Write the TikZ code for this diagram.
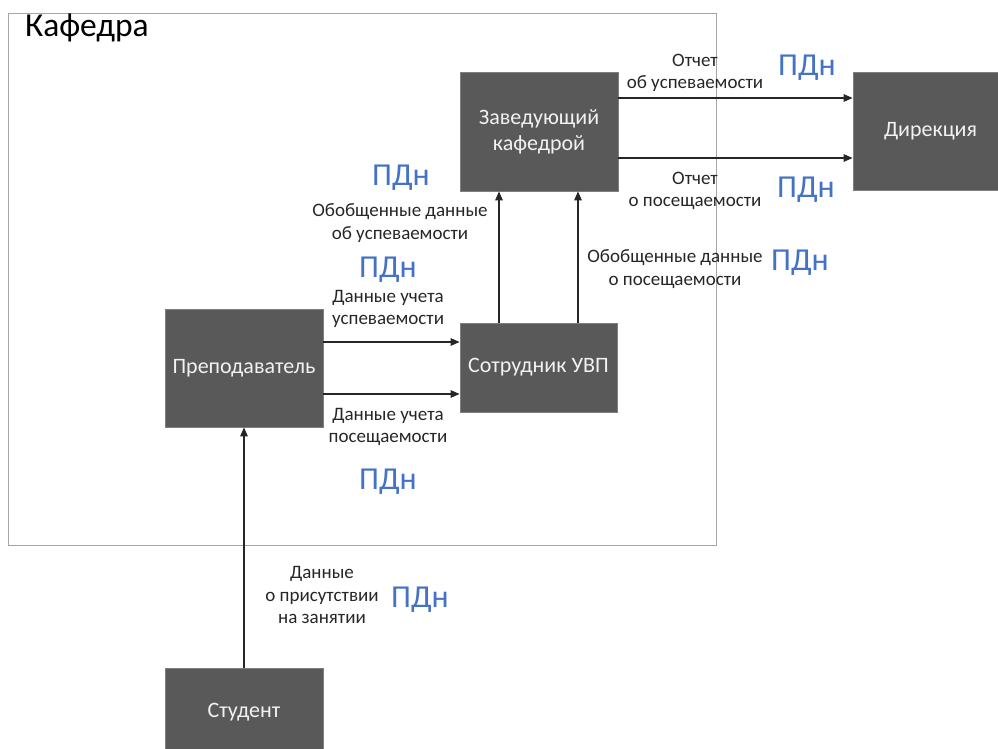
\documentclass[tikz,border=0pt]{standalone}
\usepackage{fontspec}
\setmainfont{Carlito}
\usetikzlibrary{arrows.meta}
\definecolor{boxfill}{HTML}{595959}
\definecolor{boxedge}{HTML}{7F7F7F}
\definecolor{boxtext}{HTML}{F2F2F2}
\definecolor{linecol}{HTML}{262626}
\definecolor{pdcol}{HTML}{4472C4}
\definecolor{framecol}{HTML}{A6A6A6}
\tikzset{
  actor/.style={draw=boxedge, line width=0.8pt, fill=boxfill, text=boxtext,
    font=\fontsize{22}{26}\selectfont, align=center, inner sep=0pt},
  flow/.style={draw=linecol, line width=1.3pt,
    -{Triangle[length=9pt,width=7.5pt]}},
  lbl/.style={text=linecol, font=\fontsize{19}{22.5}\selectfont, align=center, inner sep=0pt},
  pd/.style={text=pdcol, font=\fontsize{32}{34}\selectfont, inner sep=0pt},
}
\begin{document}
\begin{tikzpicture}[x=1pt, y=-1pt]
  \useasboundingbox (0,0) rectangle (998,749);
  \clip (0,0) rectangle (998,749);

  % department frame
  \node[draw=framecol, line width=0.9pt, minimum width=708pt, minimum height=532pt,
        inner sep=0pt] (dept) at (362,279) {};
  \node[anchor=west, text=black, font=\fontsize{33.5}{36}\selectfont, inner sep=0pt]
        (deptname) at (25,28) {Кафедра};

  % actors
  \node[actor, minimum width=158pt, minimum height=119pt] (zav)  at (539,131.5) {Заведующий\\кафедрой};
  \node[actor, minimum width=155pt, minimum height=118pt] (dir)  at (930.5,131) {Дирекция};
  \node[actor, minimum width=157pt, minimum height=89pt]  (sotr) at (538.5,367.5) {Сотрудник УВП};
  \node[actor, minimum width=158pt, minimum height=118pt] (prep) at (244,368) {Преподаватель};
  \node[actor, minimum width=158pt, minimum height=88pt]  (stud) at (244,712) {Студент};

  % flows
  \draw[flow] ([yshift=33.5pt]zav.east) -- ([yshift=33.5pt]zav.east -| dir.west);
  \draw[flow] ([yshift=-26.5pt]zav.east) -- ([yshift=-26.5pt]zav.east -| dir.west);
  \draw[flow] ([xshift=-39.5pt]sotr.north) -- ([xshift=-39.5pt]sotr.north |- zav.south);
  \draw[flow] ([xshift=39.5pt]sotr.north) -- ([xshift=39.5pt]sotr.north |- zav.south);
  \draw[flow] ([yshift=26pt]prep.east) -- ([yshift=26pt]prep.east -| sotr.west);
  \draw[flow] ([yshift=-26pt]prep.east) -- ([yshift=-26pt]prep.east -| sotr.west);
  \draw[flow] (stud.north) -- (prep.south);

  % flow labels
  \node[lbl] (l1) at (695,73) {Отчет\\об успеваемости};
  \node[lbl] (l2) at (695,191) {Отчет\\о посещаемости};
  \node[lbl] (l3) at (400,223) {Обобщенные данные\\об успеваемости};
  \node[lbl] (l4) at (675,269) {Обобщенные данные\\о посещаемости};
  \node[lbl] (l5) at (388,309) {Данные учета\\успеваемости};
  \node[lbl] (l6) at (388,427) {Данные учета\\посещаемости};
  \node[lbl] (l7) at (322,595) {Данные\\о присутствии\\на занятии};

  % personal data marks
  \node[pd] (p1) at (807,68) {ПДн};
  \node[pd] (p2) at (806,190) {ПДн};
  \node[pd] (p3) at (401,178) {ПДн};
  \node[pd] (p4) at (388,270) {ПДн};
  \node[pd] (p5) at (800,263) {ПДн};
  \node[pd] (p6) at (388,482) {ПДн};
  \node[pd] (p7) at (420,600) {ПДн};
\end{tikzpicture}
\end{document}
